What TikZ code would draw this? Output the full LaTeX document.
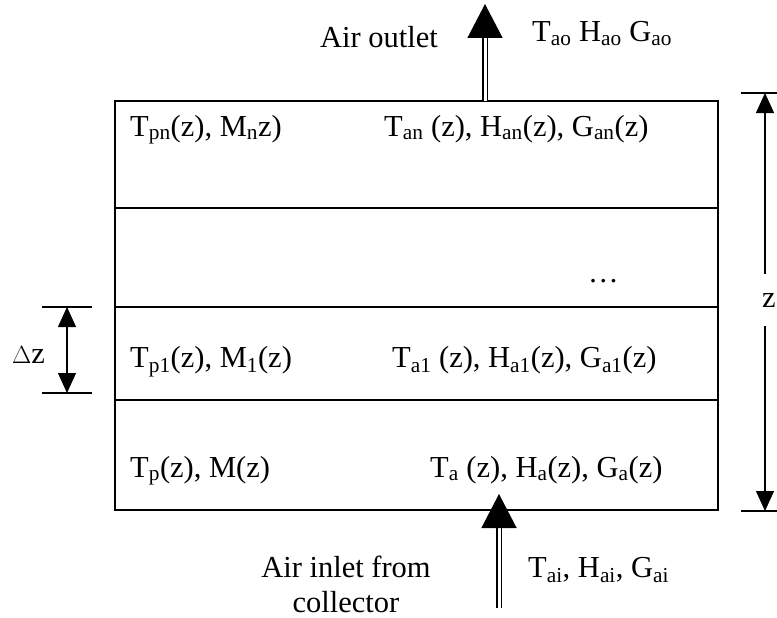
\documentclass[tikz,border=0pt]{standalone}
\usepackage{fontspec}
\setmainfont{Liberation Serif}
\usetikzlibrary{arrows.meta}
\newcommand{\lo}[1]{\textsubscript{#1}}
\tikzset{
  lbl/.style={anchor=base west, inner sep=0pt, font=\fontsize{30.5}{35}\selectfont},
  flow/.style={line width=1.4pt, double, double distance=3pt, -{Triangle[width=35pt, length=34pt]}},
  dimarrow/.style={line width=1.2pt, -{Triangle[width=18pt, length=20pt]}},
  tick/.style={line width=1.2pt}
}
\begin{document}
\begin{tikzpicture}[x=1pt, y=-1pt]
        \useasboundingbox (0,0) rectangle (777,618);
        % Box and layers
        \coordinate (tl) at (115,101);
        \coordinate (br) at (718,510);
        \draw[line width=1.6pt] (tl) rectangle (br);
        \foreach \yy in {208,307,400}
            \draw[line width=1.6pt] (115,\yy) -- (718,\yy);
        
        % Air flow arrows
        \coordinate (outbase) at (485,101);
        \coordinate (outtip) at (485,4);
        \coordinate (inbase) at (499,608);
        \coordinate (intip) at (499,494);
        \draw[flow] (outbase) -- (outtip);
        \draw[flow] (inbase) -- (intip);
        
        % Labels outside the box
        \node[lbl] (outlbl) at (320,48) {Air outlet};
        \node[lbl] (outval) at (532,42) {T\lo{ao} H\lo{ao} G\lo{ao}};
        \node[font=\fontsize{30.5}{35}\selectfont, align=center, inner sep=0pt, anchor=north] (inlbl) at (346,556) {Air inlet from\\collector};
        \node[lbl] (inval) at (528,577) {T\lo{ai}, H\lo{ai}, G\lo{ai}};
        
        % Labels in the layers
        \node[lbl] (pn) at (130,136) {T\lo{pn}(z), M\lo{n}z)};
        \node[lbl] (an) at (384,136) {T\lo{an} (z), H\lo{an}(z), G\lo{an}(z)};
        \node[lbl] (dots) at (588,282) {\dots};
        \node[lbl] (p1) at (130,367) {T\lo{p1}(z), M\lo{1}(z)};
        \node[lbl] (a1) at (392,367) {T\lo{a1} (z), H\lo{a1}(z), G\lo{a1}(z)};
        \node[lbl] (p0) at (130,477) {T\lo{p}(z), M(z)};
        \node[lbl] (a0) at (430,477) {T\lo{a} (z), H\lo{a}(z), G\lo{a}(z)};
        
        % Layer thickness
        \coordinate (dztop) at (67,307);
        \coordinate (dzbot) at (67,393);
        \draw[tick] (42,307) -- (92,307);
        \draw[tick] (42,393) -- (92,393);
        \draw[dimarrow, {Triangle[width=18pt, length=20pt]}-{Triangle[width=18pt, length=20pt]}] (dztop) -- (dzbot);
        \node[lbl] (dzlbl) at (12,363) {$\Delta$z};
        
        % Total height
        \coordinate (ztop) at (765,93);
        \coordinate (zbot) at (765,511);
        \draw[tick] (741,93) -- (777,93);
        \draw[tick] (741,511) -- (777,511);
        \node[font=\fontsize{30.5}{35}\selectfont, inner sep=0pt, minimum height=52pt] (zlbl) at (769,300) {z};
        \draw[dimarrow] (zlbl.north -| ztop) -- (ztop);
        \draw[dimarrow] (zlbl.south -| zbot) -- (zbot);
    \end{tikzpicture}
\end{document}
